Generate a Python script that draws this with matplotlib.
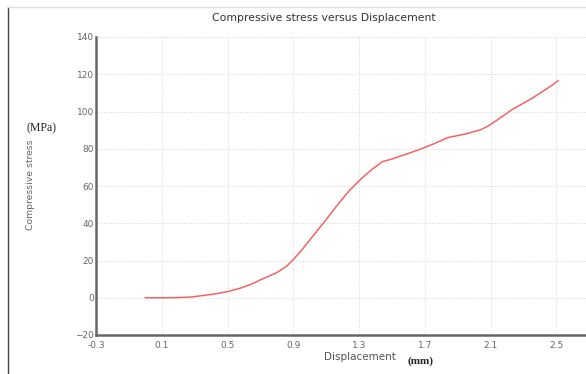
import matplotlib
matplotlib.use('Agg')
import matplotlib.pyplot as plt
from matplotlib.lines import Line2D

# displacement (mm) vs compressive stress (MPa)
disp = [0.0, 0.1, 0.2, 0.28, 0.35, 0.42, 0.5, 0.58, 0.65, 0.71, 0.8, 0.86, 0.9,
        0.95, 1.0, 1.05, 1.1, 1.17, 1.24, 1.28, 1.32, 1.38, 1.44, 1.5, 1.54,
        1.6, 1.68, 1.75, 1.84, 1.95, 2.04, 2.08, 2.15, 2.23, 2.3, 2.35, 2.42,
        2.48, 2.51]
stress = [0.0, 0.0, 0.1, 0.4, 1.2, 2.0, 3.3, 5.2, 7.5, 10.0, 13.5, 17.0, 20.5,
          25.5, 31.0, 36.5, 42.0, 50.0, 57.5, 61.0, 64.5, 69.0, 73.0, 74.5, 75.7,
          77.5, 80.0, 82.5, 86.0, 88.0, 90.2, 92.0, 96.0, 101.0, 104.5, 107.0,
          111.0, 114.5, 116.5]

xticks = [-0.3, 0.1, 0.5, 0.9, 1.3, 1.7, 2.1, 2.5]
yticks = [-20, 0, 20, 40, 60, 80, 100, 120, 140]

fig = plt.figure(figsize=(5.86, 3.74), dpi=100)
ax = fig.add_axes([96 / 586, 39 / 374, 1 - 96 / 586, 298 / 374])

ax.plot(disp, stress, color='#f26464', lw=1.1)

ax.set_xlim(-0.3, 2.68)
ax.set_ylim(-20, 140)
ax.set_xticks(xticks)
ax.set_xticklabels([f'{t:.1f}' for t in xticks])
ax.set_yticks(yticks)
ax.tick_params(labelsize=6.5, colors='#666666', length=0)
ax.tick_params(axis='y', pad=1.5)
ax.tick_params(axis='x', pad=4)
ax.grid(True, ls=(0, (1, 1.5)), color='#d8d8d8', lw=0.7)

for s in ['top', 'right']:
    ax.spines[s].set_visible(False)
for s in ['left', 'bottom']:
    ax.spines[s].set_color('#666666')
    ax.spines[s].set_linewidth(1.8)

fig.text(0.552, 0.953, 'Compressive stress versus Displacement', ha='center',
         va='center', fontsize=7.8, color='#333333')
fig.text(0.052, 0.505, 'Compressive stress', rotation=90, ha='center',
         va='center', fontsize=6.7, color='#666666')
fig.text(0.07, 0.658, '(MPa)', ha='center', va='center', fontsize=8.5,
         family='Liberation Serif', color='#222222')
fig.text(0.615, 0.046, 'Displacement', ha='center', va='center',
         fontsize=7.5, color='#555555')
fig.text(0.717, 0.033, '(mm)', ha='center', va='center', fontsize=8,
         family='Liberation Serif', weight='bold', color='#222222')

# frame lines at the top and left edge of the picture
fig.add_artist(Line2D([8 / 586, 8 / 586], [0, 1 - 7 / 374],
                      transform=fig.transFigure, color='#444444', lw=1))
fig.add_artist(Line2D([8 / 586, 1], [1 - 7 / 374, 1 - 7 / 374],
                      transform=fig.transFigure, color='#dddddd', lw=1))

fig.savefig('out.png', dpi=100)
